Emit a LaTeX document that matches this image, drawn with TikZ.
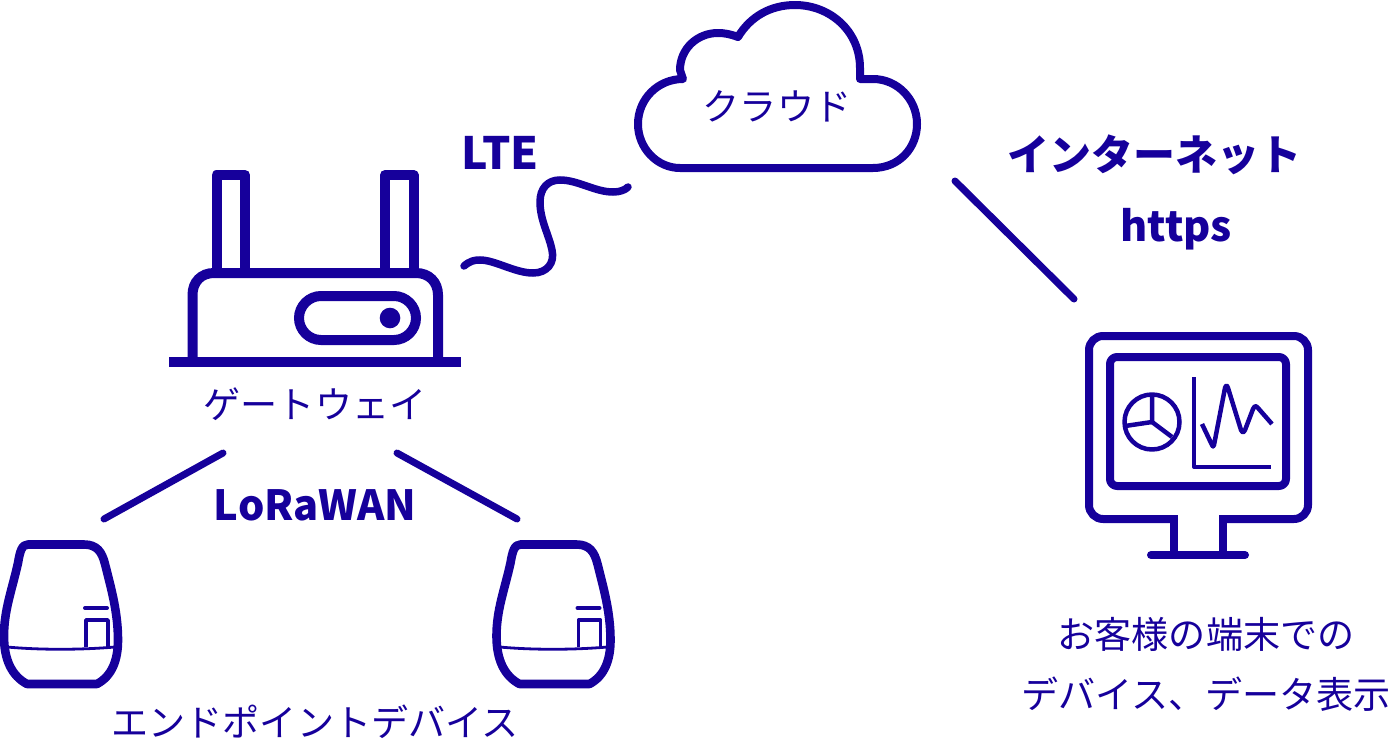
\documentclass[tikz,border=0pt]{standalone}
\usepackage{fontspec}
\setmainfont{Noto Sans CJK JP}
\definecolor{ink}{HTML}{16009B}
\tikzset{
  px/.style={x=1pt,y=-1pt},
  thick line/.style={draw=ink,line width=8pt,line join=round,line cap=round},
  mid line/.style={draw=ink,line width=4.5pt,line join=round},
  thin line/.style={draw=ink,line width=3.5pt,line join=round},
  label/.style={text=ink,font=\fontsize{37.1}{44}\selectfont,inner sep=0pt,anchor=center},
  boldlabel/.style={text=ink,font=\fontsize{42}{50}\selectfont\bfseries,inner sep=0pt,anchor=center},
  device/.pic={
    \draw[thick line,line width=8.6pt] (28,544.5) -- (84,544.5) .. controls (97,544.5) and (102,552) .. (105,564)
      .. controls (111,588) and (118,612) .. (118,640) .. controls (118,660) and (112,676) .. (97,684)
      -- (27,684) .. controls (12,676) and (4,660) .. (4,636) .. controls (4,610) and (12,590) .. (18,563)
      .. controls (20,551) and (22,544.5) .. (28,544.5) -- cycle;
    \draw[draw=ink,line width=2.8pt] (7,647) .. controls (40,650) and (80,650) .. (115,647);
    \draw[draw=ink,line width=4pt,line cap=round] (85,608) -- (107,608);
    \draw[thin line] (86,647) -- (86,620) -- (108,620) -- (108,647);
  }
}
\begin{document}
\begin{tikzpicture}[px]
\useasboundingbox (0,0) rectangle (1390,739);
% cloud
\draw[thick line] (680,168) -- (873,168) .. controls (899,168) and (917,148) .. (917,124)
  .. controls (917,99) and (897,79) .. (873,79) -- (860,79) -- (860,68)
  .. controls (860,31) and (830,5) .. (795,5) .. controls (770,5) and (750,17) .. (738,37)
  .. controls (730,34) and (724,33) .. (718,33) .. controls (697,33) and (680,49) .. (680,70)
  -- (683,79) .. controls (658,79) and (638,99) .. (638,124) .. controls (638,148) and (657,168) .. (680,168) -- cycle;
\node[label] (cloudlabel) at (777,106) {クラウド};
% router
\draw[draw=ink,line width=10pt,line join=round] (216.5,273) -- (216.5,175) -- (245,175) -- (245,273);
\draw[draw=ink,line width=10pt,line join=round] (385,273) -- (385,175) -- (413.5,175) -- (413.5,273);
\draw[draw=ink,line width=10pt] (192.5,361) -- (192.5,295) .. controls (192.5,282) and (201,273) .. (214,273)
  -- (416,273) .. controls (429,273) and (438,282) .. (438,295) -- (438,361);
\draw[draw=ink,line width=10pt] (169,361.5) -- (461,361.5);
\draw[draw=ink,line width=10pt] (321,296) -- (394,296) .. controls (406,296) and (416,306) .. (416,318)
  .. controls (416,330) and (406,340) .. (394,340) -- (321,340)
  .. controls (309,340) and (299,330) .. (299,318) .. controls (299,306) and (309,296) .. (321,296) -- cycle;
\fill[ink] (390,318) circle[radius=10.3];
\node[label] (gatewaylabel) at (315,404) {ゲートウェイ};
% LTE wave
\coordinate (waveA) at (464,266);
\coordinate (waveB) at (628,187);
\draw[draw=ink,line width=7.5pt,line cap=round] (waveA) .. controls (470,261) and (474,260) .. (480,260)
  .. controls (495,260) and (515,273) .. (533,273) .. controls (547,273) and (555,263) .. (552,250)
  .. controls (549,235) and (540,220) .. (540,202) .. controls (540,188) and (548,180) .. (560,180)
  .. controls (578,180) and (595,192) .. (613,192) .. controls (620,192) and (625,190) .. (waveB);
\node[boldlabel,font=\fontsize{44.5}{50}\selectfont\bfseries] (ltelabel) at (500,153) {LTE};
% internet
\coordinate (netA) at (955,181);
\coordinate (netB) at (1074,299);
\draw[draw=ink,line width=7pt,line cap=round] (netA) -- (netB);
\node[boldlabel] (netlabel) at (1154,155) {インターネット};
\node[boldlabel,font=\fontsize{41.5}{50}\selectfont\bfseries] (httpslabel) at (1176,229) {https};
% monitor
\draw[thick line,rounded corners=14pt] (1174,519) -- (1089,519) -- (1089,336) -- (1308,336) -- (1308,519) -- (1223,519);
\draw[draw=ink,line width=8pt] (1174,515) -- (1174,555);
\draw[draw=ink,line width=8pt] (1223,515) -- (1223,555);
\draw[draw=ink,line width=8pt,line cap=round] (1151,555) -- (1245,555);
\draw[thick line,rounded corners=7pt] (1110,357) rectangle (1286,486);
\coordinate (pie) at (1152,422);
\draw[mid line] (pie) circle[radius=27.5];
\draw[mid line] (1152,395) -- (pie) -- (1125,426);
\draw[mid line] (pie) -- (1172,437);
\draw[thin line,line width=4pt] (1194,377) -- (1194,467) -- (1271,467);
\draw[mid line] (1202,424) -- (1212,445) .. controls (1214,447) and (1212,447) .. (1214,445)
  -- (1225,388) .. controls (1226,385) and (1227,385) .. (1228,388) -- (1241,430)
  .. controls (1243,433) and (1243,433) .. (1245,430) -- (1253,409) .. controls (1255,405) and (1256,406) .. (1258,408) -- (1272,424);
\node[label] (clientA) at (1206,634) {お客様の端末での};
\node[label] (clientB) at (1206,694) {デバイス、データ表示};
% devices
\pic at (0,0) {device};
\pic at (492.5,0) {device};
\coordinate (loraA) at (104,519);
\coordinate (loraB) at (223,453);
\coordinate (loraC) at (397,453);
\coordinate (loraD) at (517,519);
\draw[draw=ink,line width=7pt,line cap=round] (loraA) -- (loraB);
\draw[draw=ink,line width=7pt,line cap=round] (loraC) -- (loraD);
\node[boldlabel,font=\fontsize{41.5}{50}\selectfont\bfseries] (loralabel) at (315,505) {LoRaWAN};
\node[label] (endlabel) at (315,722) {エンドポイントデバイス};
\end{tikzpicture}
\end{document}
